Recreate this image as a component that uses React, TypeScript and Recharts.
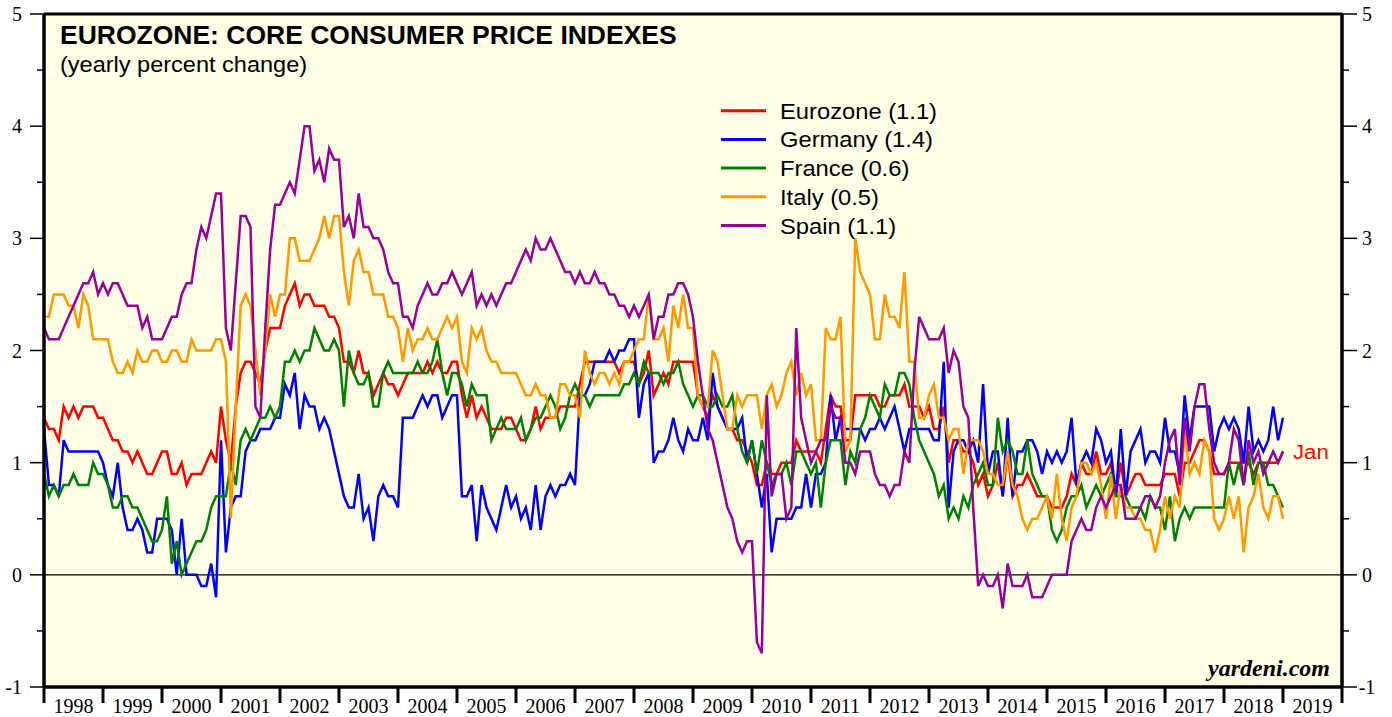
import React from 'react';
import { LineChart, Line, XAxis, YAxis, CartesianGrid, ReferenceLine } from 'recharts';

const W = 1392;
const H = 717;

// Monthly data, Jan 1998 .. Jan 2019 (yearly % change, core CPI)
const eurozone = [
  1.4, 1.3, 1.3, 1.2, 1.5, 1.4, 1.5, 1.4, 1.5, 1.5, 1.5, 1.4,
  1.4, 1.3, 1.2, 1.2, 1.1, 1.1, 1.0, 1.1, 1.0, 0.9, 0.9, 1.0,
  1.1, 1.1, 0.9, 0.9, 1.0, 0.8, 0.9, 0.9, 0.9, 1.0, 1.1, 1.0,
  1.5, 1.2, 1.0, 1.5, 1.8, 1.9, 1.9, 1.8, 1.7, 2.0, 2.2, 2.2,
  2.2, 2.4, 2.5, 2.6, 2.4, 2.5, 2.5, 2.4, 2.4, 2.4, 2.3, 2.3,
  2.2, 1.9, 1.9, 1.8, 2.0, 1.8, 1.8, 1.6, 1.7, 1.8, 1.7, 1.7,
  1.6, 1.7, 1.8, 1.8, 1.8, 1.8, 1.9, 1.8, 1.9, 1.8, 1.8, 1.9,
  1.9, 1.6, 1.4, 1.6, 1.4, 1.5, 1.4, 1.3, 1.3, 1.3, 1.4, 1.4,
  1.3, 1.2, 1.2, 1.3, 1.5, 1.3, 1.4, 1.4, 1.4, 1.5, 1.5, 1.5,
  1.5, 1.7, 1.9, 1.9, 1.9, 1.9, 1.9, 1.9, 1.9, 1.8, 1.9, 1.9,
  1.9, 1.7, 1.8, 2.0, 1.6, 1.7, 1.8, 1.7, 1.9, 1.9, 1.9, 1.9,
  1.9, 1.6, 1.5, 1.4, 1.6, 1.5, 1.4, 1.3, 1.3, 1.2, 1.2, 1.1,
  1.0, 0.8, 0.8, 1.0, 0.9, 0.9, 1.0, 1.0, 1.0, 1.2, 1.1, 1.1,
  1.1, 1.1, 1.0, 1.3, 1.6, 1.5, 1.5, 1.2, 1.2, 1.6, 1.6, 1.6,
  1.6, 1.6, 1.5, 1.5, 1.6, 1.6, 1.6, 1.7, 1.5, 1.5, 1.5, 1.4,
  1.5, 1.3, 1.3, 1.5, 1.0, 1.2, 1.2, 1.1, 1.1, 1.0, 0.8, 0.9,
  0.7, 0.8, 1.0, 0.7, 1.1, 0.7, 0.8, 0.8, 0.9, 0.8, 0.7, 0.7,
  0.7, 0.6, 0.6, 0.6, 0.7, 0.9, 0.8, 1.0, 0.9, 0.9, 1.1, 0.9,
  0.9, 1.0, 0.7, 1.0, 0.7, 0.8, 0.9, 0.9, 0.8, 0.8, 0.8, 0.8,
  0.9, 0.9, 0.9, 0.7, 1.0, 1.0, 1.1, 1.2, 1.2, 1.1, 0.9, 0.9,
  0.9, 1.0, 1.0, 1.0, 1.0, 1.0, 0.9, 1.0, 1.0, 1.0, 1.0, 1.0,
  1.1,
];

const germany = [
  1.3, 0.8, 0.8, 0.7, 1.2, 1.1, 1.1, 1.1, 1.1, 1.1, 1.1, 1.1,
  1.0, 0.8, 0.7, 1.0, 0.6, 0.4, 0.4, 0.5, 0.4, 0.2, 0.2, 0.5,
  0.5, 0.5, 0.4, 0.0, 0.5, 0.0, 0.0, 0.0, -0.1, -0.1, 0.1, -0.2,
  1.2, 0.2, 0.6, 0.7, 0.7, 1.1, 1.2, 1.2, 1.3, 1.3, 1.3, 1.4,
  1.4, 1.7, 1.6, 1.8, 1.3, 1.6, 1.5, 1.5, 1.3, 1.4, 1.3, 1.1,
  0.9, 0.7, 0.6, 0.6, 0.9, 0.5, 0.6, 0.3, 0.7, 0.8, 0.7, 0.7,
  0.6, 1.4, 1.4, 1.4, 1.5, 1.6, 1.5, 1.6, 1.6, 1.4, 1.5, 1.6,
  1.6, 0.7, 0.7, 0.8, 0.3, 0.8, 0.6, 0.5, 0.4, 0.6, 0.8, 0.6,
  0.7, 0.5, 0.6, 0.4, 0.8, 0.4, 0.7, 0.8, 0.7, 0.8, 0.8, 0.9,
  0.8, 1.6, 1.6, 1.7, 1.9, 1.9, 1.9, 2.0, 1.9, 2.0, 2.0, 2.1,
  2.1, 1.4, 1.7, 1.8, 1.0, 1.1, 1.1, 1.2, 1.4, 1.2, 1.1, 1.3,
  1.2, 1.2, 1.4, 1.2, 1.8, 1.5, 1.4, 1.3, 1.3, 1.3, 1.4, 1.0,
  1.2, 0.9, 0.6, 0.9, 0.2, 0.5, 0.5, 0.5, 0.5, 0.6, 0.6, 0.9,
  0.6, 0.9, 0.9, 1.0, 1.6, 1.2, 1.4, 1.3, 1.3, 1.3, 1.3, 1.2,
  1.3, 1.3, 1.4, 1.3, 1.4, 1.5, 1.3, 1.1, 1.3, 1.3, 1.3, 1.3,
  1.3, 1.2, 1.2, 1.9, 0.6, 1.1, 1.2, 1.2, 1.1, 1.2, 1.0, 1.7,
  0.9, 1.1, 1.1, 0.7, 1.4, 0.7, 1.1, 1.1, 1.2, 1.2, 1.1, 0.9,
  1.1, 1.0, 1.1, 1.0, 1.1, 1.4, 0.8, 1.0, 1.1, 1.0, 1.3, 1.2,
  1.0, 1.1, 0.7, 1.3, 0.7, 1.1, 1.2, 1.3, 1.0, 1.1, 1.1, 1.0,
  1.4, 1.1, 1.1, 0.9, 1.6, 1.2, 1.5, 1.5, 1.5, 1.5, 1.1, 1.3,
  1.4, 1.3, 1.4, 1.3, 1.0, 1.5, 1.1, 1.2, 1.1, 1.2, 1.5, 1.2,
  1.4,
];

const france = [
  0.9, 0.7, 0.8, 0.7, 0.8, 0.8, 0.9, 0.8, 0.8, 0.8, 1.0, 0.9,
  0.9, 0.8, 0.6, 0.6, 0.7, 0.7, 0.6, 0.6, 0.5, 0.4, 0.3, 0.3,
  0.4, 0.7, 0.1, 0.3, 0.0, 0.1, 0.2, 0.3, 0.3, 0.4, 0.6, 0.7,
  0.7, 0.7, 1.0, 0.8, 1.2, 1.3, 1.2, 1.3, 1.4, 1.4, 1.5, 1.4,
  1.5, 1.9, 1.9, 2.0, 1.9, 2.0, 2.0, 2.2, 2.1, 2.0, 2.0, 2.1,
  2.0, 1.5, 2.0, 1.8, 1.7, 1.7, 1.8, 1.5, 1.5, 1.8, 1.9, 1.8,
  1.8, 1.8, 1.8, 1.8, 1.9, 1.8, 1.8, 1.9, 2.1, 1.8, 1.6, 1.8,
  1.8, 1.7, 1.5, 1.7, 1.6, 1.6, 1.6, 1.2, 1.3, 1.4, 1.3, 1.3,
  1.3, 1.4, 1.2, 1.3, 1.4, 1.4, 1.5, 1.6, 1.5, 1.3, 1.4, 1.6,
  1.7, 1.6, 1.6, 1.5, 1.6, 1.6, 1.6, 1.6, 1.6, 1.6, 1.7, 1.7,
  1.8, 1.7, 1.9, 1.8, 1.8, 1.8, 1.7, 1.8, 1.8, 1.9, 1.7, 1.6,
  1.5, 1.6, 1.6, 1.5, 1.5, 1.6, 1.5, 1.5, 1.6, 1.3, 1.1, 1.0,
  1.2, 0.9, 1.2, 1.0, 0.8, 0.9, 0.9, 1.0, 0.8, 1.1, 1.1, 1.0,
  0.9, 1.0, 0.6, 1.0, 1.2, 1.2, 1.2, 0.8, 1.1, 1.0, 1.3, 1.4,
  1.6, 1.5, 1.4, 1.7, 1.6, 1.6, 1.8, 1.8, 1.7, 1.4, 1.2, 1.1,
  1.0, 0.9, 0.7, 0.8, 0.5, 0.6, 0.5, 0.7, 0.6, 0.8, 0.9, 1.0,
  0.8, 0.8, 1.4, 1.1, 1.2, 1.1, 0.9, 0.9, 1.2, 0.9, 0.8, 0.7,
  0.7, 0.4, 0.3, 0.4, 0.6, 0.7, 0.7, 0.8, 0.6, 0.7, 0.8, 0.7,
  0.8, 0.9, 0.7, 0.7, 0.7, 0.6, 0.6, 0.6, 0.5, 0.7, 0.6, 0.6,
  0.4, 0.7, 0.3, 0.5, 0.6, 0.5, 0.6, 0.6, 0.6, 0.6, 0.6, 0.6,
  0.6, 1.0, 0.8, 1.0, 0.8, 1.1, 0.8, 1.0, 1.0, 0.8, 0.8, 0.7,
  0.6,
];

const italy = [
  2.3, 2.3, 2.5, 2.5, 2.5, 2.4, 2.4, 2.2, 2.5, 2.4, 2.1, 2.1,
  2.1, 2.1, 1.9, 1.8, 1.8, 1.9, 1.8, 2.0, 1.9, 1.9, 2.0, 2.0,
  1.9, 1.9, 2.0, 2.0, 1.9, 1.9, 2.1, 2.0, 2.0, 2.0, 2.0, 2.1,
  2.1, 1.9, 0.5, 1.5, 2.4, 2.5, 2.4, 2.0, 1.6, 2.0, 2.5, 2.3,
  2.5, 2.5, 3.0, 3.0, 2.8, 2.8, 2.8, 2.9, 3.0, 3.2, 3.0, 3.2,
  3.2, 2.7, 2.4, 2.8, 2.9, 2.7, 2.7, 2.5, 2.5, 2.5, 2.3, 2.3,
  2.2, 1.9, 2.2, 2.0, 2.1, 2.1, 2.2, 2.1, 2.1, 2.2, 2.3, 2.2,
  2.3, 1.9, 1.8, 2.2, 2.1, 2.2, 2.0, 1.9, 1.9, 1.8, 1.8, 1.8,
  1.8, 1.7, 1.6, 1.6, 1.7, 1.6, 1.6, 1.4, 1.4, 1.7, 1.7, 1.6,
  1.6, 1.4, 2.0, 1.8, 1.7, 1.8, 1.8, 1.7, 1.8, 1.7, 1.9, 1.9,
  2.0, 2.1, 2.1, 2.5, 2.1, 2.1, 2.2, 1.9, 2.4, 2.2, 2.5, 2.2,
  2.2, 1.6, 1.5, 1.5, 2.0, 1.9, 1.6, 1.3, 1.3, 1.6, 1.5, 1.6,
  1.6, 1.6, 1.3, 1.6, 1.7, 1.5, 1.6, 1.8, 1.9, 1.6, 1.8, 1.6,
  1.7, 1.2, 1.2, 2.2, 2.1, 2.1, 2.3, 1.1, 1.2, 3.0, 2.7, 2.6,
  2.5, 2.1, 2.1, 2.5, 2.3, 2.3, 2.2, 2.7, 1.9, 1.9, 1.4, 1.4,
  1.6, 1.7, 1.4, 1.4, 1.2, 1.3, 1.3, 0.9, 1.2, 1.2, 1.2, 1.1,
  0.9, 0.9, 0.8, 0.8, 1.1, 0.8, 0.7, 0.5, 0.4, 0.5, 0.5, 0.6,
  0.7, 0.5, 0.9, 0.5, 0.3, 0.6, 0.7, 1.0, 1.0, 0.9, 1.0, 0.8,
  0.5, 0.9, 0.5, 0.8, 0.6, 0.6, 0.5, 0.5, 0.4, 0.4, 0.2, 0.4,
  0.7, 0.5, 0.7, 0.6, 1.3, 0.9, 1.0, 0.9, 1.2, 1.1, 0.5, 0.4,
  0.5, 0.7, 0.5, 0.7, 0.2, 0.6, 0.7, 0.9, 0.6, 0.5, 0.7, 0.7,
  0.5,
];

const spain = [
  2.2, 2.1, 2.1, 2.1, 2.2, 2.3, 2.4, 2.5, 2.6, 2.6, 2.7, 2.5,
  2.6, 2.5, 2.6, 2.6, 2.5, 2.4, 2.4, 2.4, 2.2, 2.3, 2.1, 2.1,
  2.1, 2.2, 2.3, 2.3, 2.5, 2.6, 2.6, 2.9, 3.1, 3.0, 3.2, 3.4,
  3.4, 2.2, 2.0, 2.6, 3.2, 3.2, 3.1, 1.5, 1.4, 2.2, 2.9, 3.3,
  3.3, 3.4, 3.5, 3.4, 3.7, 4.0, 4.0, 3.6, 3.7, 3.5, 3.8, 3.7,
  3.7, 3.1, 3.2, 3.0, 3.4, 3.1, 3.1, 3.0, 3.0, 2.9, 2.7, 2.6,
  2.6, 2.3, 2.3, 2.2, 2.4, 2.5, 2.6, 2.5, 2.5, 2.6, 2.6, 2.7,
  2.6, 2.5, 2.6, 2.7, 2.4, 2.5, 2.4, 2.5, 2.4, 2.5, 2.6, 2.6,
  2.7, 2.8, 2.9, 2.8, 3.0, 2.9, 2.9, 3.0, 2.9, 2.8, 2.7, 2.7,
  2.6, 2.7, 2.6, 2.6, 2.7, 2.6, 2.6, 2.5, 2.5, 2.4, 2.4, 2.3,
  2.4, 2.3, 2.4, 2.5, 2.1, 2.3, 2.3, 2.5, 2.5, 2.6, 2.6, 2.5,
  2.3, 1.9, 1.6, 1.3, 1.2, 1.0, 0.8, 0.6, 0.5, 0.3, 0.2, 0.3,
  0.3, -0.6, -0.7, 1.6, 0.7, 0.9, 0.9, 0.5, 0.6, 2.2, 1.4, 1.2,
  1.0, 1.1, 1.2, 1.2, 1.5, 1.4, 1.4, 1.0, 1.0, 0.9, 1.1, 1.1,
  1.1, 0.9, 0.8, 0.8, 0.7, 0.8, 0.8, 1.1, 1.0, 1.8, 2.3, 2.2,
  2.1, 2.1, 2.1, 2.2, 1.8, 2.0, 1.9, 1.5, 1.4, 0.6, -0.1, 0.0,
  -0.1, -0.1, 0.0, -0.3, 0.1, -0.1, -0.1, -0.1, 0.0, -0.2, -0.2, -0.2,
  -0.1, 0.0, 0.0, 0.0, 0.0, 0.3, 0.4, 0.5, 0.4, 0.4, 0.6, 0.7,
  0.6, 0.7, 0.8, 0.8, 0.5, 0.5, 0.5, 0.6, 0.7, 0.7, 0.6, 0.7,
  1.0, 1.2, 1.3, 0.8, 1.4, 1.1, 1.5, 1.7, 1.7, 1.3, 1.0, 0.9,
  0.9, 1.0, 1.3, 1.2, 0.8, 1.2, 1.0, 1.1, 0.9, 1.0, 1.1, 1.0,
  1.1,
];

const yearLabels = [
  '1998', '1999', '2000', '2001', '2002', '2003', '2004', '2005', '2006', '2007', '2008',
  '2009', '2010', '2011', '2012', '2013', '2014', '2015', '2016', '2017', '2018', '2019',
];
// month offsets of each January (plus the right edge of the axis)
const yearTicks = [0, 12, 24, 36, 48, 60, 72, 84, 96, 108, 120, 132, 144, 156, 168, 180, 192, 204, 216, 228, 240, 252, 264];
const valueTicks = [-1, -0.5, 0, 0.5, 1, 1.5, 2, 2.5, 3, 3.5, 4, 4.5, 5];

const seriesKeys = ['ez', 'de', 'fr', 'it', 'es'];
const seriesLabels = ['Eurozone (1.1)', 'Germany (1.4)', 'France (0.6)', 'Italy (0.5)', 'Spain (1.1)'];
const seriesColors = ['#ff0000', '#0000ff', '#008000', '#ff9900', '#990099'];

const data = eurozone.map((v, i) => ({
  m: i,
  ez: v,
  de: germany[i],
  fr: france[i],
  it: italy[i],
  es: spain[i],
}));

const SERIF = '"Liberation Serif", "Times New Roman", serif';
const SANS = '"Liberation Sans", Arial, Helvetica, sans-serif';

function YearTick(props: any) {
  const { x, y, payload } = props;
  const v = payload.value as number;
  const idx = v / 12;
  const label = idx < yearLabels.length ? yearLabels[idx] : null;
  return (
    <g>
      <line x1={x} x2={x} y1={y} y2={y + 16} stroke="#000" strokeWidth={3} />
      {label && (
        <text x={x + 29.5} y={y + 26} textAnchor="middle" fontFamily={SERIF} fontSize={20} fill="#000">
          {label}
        </text>
      )}
    </g>
  );
}

function LeftTick(props: any) {
  const { x, y, payload } = props;
  const v = payload.value as number;
  const major = Number.isInteger(v);
  return (
    <g>
      <line x1={x - (major ? 14 : 7)} x2={x} y1={y} y2={y} stroke="#000" strokeWidth={1.5} />
      {major && (
        <text x={x - 22} y={y} dy="0.35em" textAnchor="end" fontFamily={SERIF} fontSize={20} fill="#000">
          {v}
        </text>
      )}
    </g>
  );
}

function RightTick(props: any) {
  const { x, y, payload } = props;
  const v = payload.value as number;
  const major = Number.isInteger(v);
  return (
    <g>
      <line x1={x} x2={x + (major ? 15 : 7)} y1={y} y2={y} stroke="#000" strokeWidth={1.5} />
      {major && (
        <text x={x + 25} y={y} dy="0.35em" textAnchor="middle" fontFamily={SERIF} fontSize={20} fill="#000">
          {v}
        </text>
      )}
    </g>
  );
}

const legendRowY = [110.7, 139.4, 168.1, 196.8, 225.5];

export default function App() {
  return (
    <div style={{ position: 'absolute', left: 0, top: 0, width: W, height: H, background: '#ffffff' }}>
      <LineChart width={W} height={H} data={data} margin={{ top: 14, right: 0, bottom: 0, left: 0 }}>
        <CartesianGrid fill="#fffee6" horizontal={false} vertical={false} />
        <XAxis
          dataKey="m"
          type="number"
          domain={[0, 264]}
          ticks={yearTicks}
          interval={0}
          allowDataOverflow
          height={30}
          tickSize={0}
          tickMargin={0}
          tickLine={false}
          axisLine={{ stroke: '#000', strokeWidth: 3.5 }}
          tick={<YearTick />}
        />
        <YAxis
          yAxisId="left"
          orientation="left"
          width={44}
          type="number"
          domain={[-1, 5]}
          ticks={valueTicks}
          interval={0}
          allowDataOverflow
          tickSize={0}
          tickMargin={0}
          tickLine={false}
          axisLine={{ stroke: '#000', strokeWidth: 3.5 }}
          tick={<LeftTick />}
        />
        <YAxis
          yAxisId="right"
          orientation="right"
          width={50}
          type="number"
          domain={[-1, 5]}
          ticks={valueTicks}
          interval={0}
          allowDataOverflow
          tickSize={0}
          tickMargin={0}
          tickLine={false}
          axisLine={{ stroke: '#000', strokeWidth: 3.5 }}
          tick={<RightTick />}
        />
        <ReferenceLine yAxisId="left" y={0} stroke="#000" strokeWidth={1.3} />
        <ReferenceLine yAxisId="left" y={5} stroke="#000" strokeWidth={3} />
        {seriesKeys.map((k, i) => (
          <Line
            key={k}
            yAxisId="left"
            type="linear"
            dataKey={k}
            stroke={seriesColors[i]}
            strokeWidth={2.5}
            dot={false}
            activeDot={false}
            isAnimationActive={false}
          />
        ))}
      </LineChart>
      <svg
        width={W}
        height={H}
        style={{ position: 'absolute', left: 0, top: 0, pointerEvents: 'none' }}
      >
        <g transform="translate(60,44) scale(1.06,1)">
          <text x={0} y={0} fontFamily={SANS} fontWeight="bold" fontSize={25} fill="#000">
            EUROZONE: CORE CONSUMER PRICE INDEXES
          </text>
        </g>
        <g transform="translate(60,72) scale(1.07,1)">
          <text x={0} y={0} fontFamily={SANS} fontSize={22} fill="#000">
            (yearly percent change)
          </text>
        </g>
        {seriesLabels.map((lab, i) => (
          <g key={lab}>
            <line x1={721} x2={766} y1={legendRowY[i]} y2={legendRowY[i]} stroke={seriesColors[i]} strokeWidth={3} />
            <g transform={`translate(780,${legendRowY[i] + 8}) scale(1.08,1)`}>
              <text x={0} y={0} fontFamily={SANS} fontSize={22} fill="#000">
                {lab}
              </text>
            </g>
          </g>
        ))}
        <g transform="translate(1293,459) scale(1.06,1)">
          <text x={0} y={0} fontFamily={SANS} fontSize={21} fill="#ff0000">
            Jan
          </text>
        </g>
        <text
          x={1330}
          y={676}
          textAnchor="end"
          fontFamily={SERIF}
          fontStyle="italic"
          fontWeight="bold"
          fontSize={24}
          fill="#000"
        >
          yardeni.com
        </text>
      </svg>
    </div>
  );
}
